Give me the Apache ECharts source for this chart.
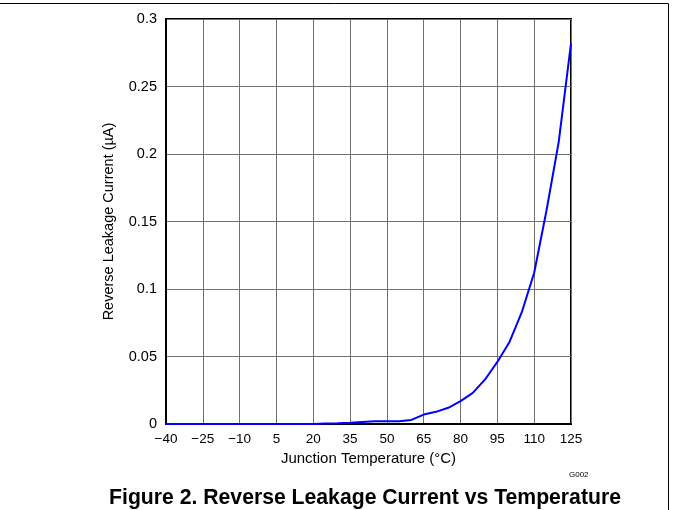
<!DOCTYPE html>
<html>
<head>
<meta charset="utf-8">
<script src="https://cdn.jsdelivr.net/npm/echarts@6/dist/echarts.min.js"></script>
<style>
  html, body { margin: 0; padding: 0; background: #fff; }
  #chart { width: 673px; height: 510px; }
</style>
</head>
<body>
<div id="chart"></div>
<script>
// junction temperature (°C) and reverse leakage current (µA)
var temps = [-40, -35, -30, -25, -20, -15, -10, -5, 0, 5, 10, 15, 20, 25, 30, 35, 40, 45, 50, 55, 60,
  65, 70, 75, 80, 85, 90, 95, 100, 105, 110, 115, 120, 125]
var leakage = [0, 0, 0, 0, 0, 0, 0, 0, 0, 0, 0, 0, 0, 0.0003, 0.0006, 0.001, 0.0015, 0.002, 0.002, 0.002, 0.003,
  0.007, 0.009, 0.012, 0.017, 0.023, 0.033, 0.046, 0.061, 0.083, 0.112, 0.158, 0.209, 0.282]
var xTicks = [-40, -25, -10, 5, 20, 35, 50, 65, 80, 95, 110, 125]
var yTicks = [0, 0.05, 0.1, 0.15, 0.2, 0.25, 0.3]

// ECharts starts interval ticks at a multiple of the interval, so shift x by -min
var xMin = xTicks[0]
var xMax = xTicks[xTicks.length - 1]
var xStep = xTicks[1] - xTicks[0]
var yStep = yTicks[1] - yTicks[0]

var points = temps.map(function (t, i) {
  return [t - xMin, leakage[i]]
})

var font = 'Liberation Sans, Arial, sans-serif'
var mycharts = echarts.init(document.getElementById('chart'), null, { renderer: 'canvas' })
mycharts.setOption({
  animation: false,
  backgroundColor: '#fff',
  title: {
    text: 'Figure 2. Reverse Leakage Current vs Temperature',
    left: 365,
    textAlign: 'center',
    top: 488,
    padding: 0,
    textStyle: { fontFamily: font, fontSize: 21.2, fontWeight: 'bold', color: '#000' }
  },
  grid: {
    left: 166,
    right: 102,
    top: 19,
    bottom: 86,
    show: true,
    borderColor: '#000',
    borderWidth: 2,
    backgroundColor: 'transparent'
  },
  xAxis: {
    type: 'value',
    min: 0,
    max: xMax - xMin,
    interval: xStep,
    name: 'Junction Temperature (°C)',
    nameLocation: 'middle',
    nameGap: 19,
    nameTextStyle: { fontFamily: font, fontSize: 15, color: '#000' },
    axisLine: { show: true, lineStyle: { color: '#000', width: 2 } },
    axisTick: { show: false },
    axisLabel: {
      fontFamily: font,
      fontSize: 13.5,
      color: '#000',
      margin: 8,
      formatter: function (v) {
        var t = v + xMin
        return t < 0 ? '\u2212' + Math.abs(t) : String(t)
      }
    },
    splitLine: { show: true, lineStyle: { color: '#707070', width: 1 } }
  },
  yAxis: {
    type: 'value',
    min: yTicks[0],
    max: yTicks[yTicks.length - 1],
    interval: yStep,
    name: 'Reverse Leakage Current (µA)',
    nameLocation: 'middle',
    nameGap: 50,
    nameTextStyle: { fontFamily: font, fontSize: 14.5, color: '#000' },
    axisLine: { show: true, lineStyle: { color: '#000', width: 2 } },
    axisTick: { show: false },
    axisLabel: { fontFamily: font, fontSize: 14.5, color: '#000', margin: 9 },
    splitLine: { show: true, lineStyle: { color: '#707070', width: 1 } }
  },
  graphic: [
    {
      type: 'polyline',
      shape: { points: [[0, 3.5], [668.5, 3.5], [668.5, 510]] },
      style: { stroke: '#000', lineWidth: 1, fill: null }
    },
    {
      type: 'text',
      left: 569,
      top: 471,
      style: { text: 'G002', font: '8px ' + font, fill: '#000' }
    }
  ],
  series: [
    {
      type: 'line',
      data: points,
      showSymbol: false,
      smooth: false,
      lineStyle: { color: '#0000ff', width: 2 },
      itemStyle: { color: '#0000ff' }
    }
  ]
})
</script>
</body>
</html>
